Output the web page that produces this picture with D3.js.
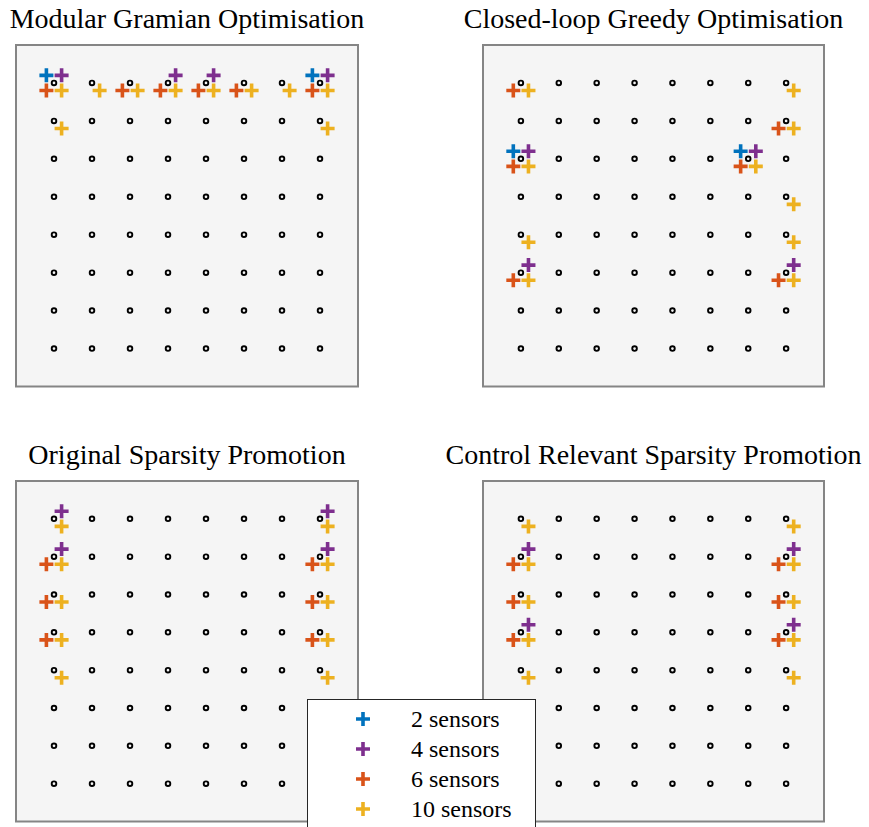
<!DOCTYPE html>
<html>
<head>
<meta charset="utf-8">
<script src="https://cdn.jsdelivr.net/npm/d3@7"></script>
<style>
  body { margin: 0; background: #fff; }
  text { font-family: "Liberation Serif", "DejaVu Serif", serif; fill: #000; }
</style>
</head>
<body>
<script>
// sensor placements, [column, row] on the 8x8 candidate grid (row 1 = top)
const gramian2 = [[1, 1], [8, 1]];
const gramian4 = [[1, 1], [4, 1], [5, 1], [8, 1]];
const gramian6 = [[1, 1], [3, 1], [4, 1], [5, 1], [6, 1], [8, 1]];
const gramian10 = [[1, 1], [2, 1], [3, 1], [4, 1], [5, 1], [6, 1], [7, 1], [8, 1], [1, 2], [8, 2]];

const greedy2 = [[1, 3], [7, 3]];
const greedy4 = [[1, 3], [7, 3], [1, 6], [8, 6]];
const greedy6 = [[1, 1], [8, 2], [1, 3], [7, 3], [1, 6], [8, 6]];
const greedy10 = [[1, 1], [8, 1], [8, 2], [1, 3], [7, 3], [8, 4], [1, 5], [8, 5], [1, 6], [8, 6]];

const sparse2 = [];
const sparse4 = [[1, 1], [8, 1], [1, 2], [8, 2]];
const sparse6 = [[1, 2], [8, 2], [1, 3], [8, 3], [1, 4], [8, 4]];
const sparse10 = [[1, 1], [8, 1], [1, 2], [8, 2], [1, 3], [8, 3], [1, 4], [8, 4], [1, 5], [8, 5]];

const control2 = [];
const control4 = [[1, 2], [8, 2], [1, 4], [8, 4]];
const control6 = [[1, 2], [8, 2], [1, 3], [8, 3], [1, 4], [8, 4]];
const control10 = [[1, 1], [8, 1], [1, 2], [8, 2], [1, 3], [8, 3], [1, 4], [8, 4], [1, 5], [8, 5]];

const gridCols = d3.range(1, 9);
const gridRows = d3.range(1, 9);

const seriesNames = ['2 sensors', '4 sensors', '6 sensors', '10 sensors'];
const seriesColors = ['#0072BD', '#7E2F8E', '#D95319', '#EDB120'];
// small shift so the markers of each series sit round the grid point
const seriesShift = [[-0.2, -0.2], [0.2, -0.2], [-0.2, 0.2], [0.2, 0.2]];

const panelTitles = ['Modular Gramian Optimisation', 'Closed-loop Greedy Optimisation',
  'Original Sparsity Promotion', 'Control Relevant Sparsity Promotion'];
const panelData = [
  [gramian2, gramian4, gramian6, gramian10],
  [greedy2, greedy4, greedy6, greedy10],
  [sparse2, sparse4, sparse6, sparse10],
  [control2, control4, control6, control10]
];

const width = 869, height = 827;
const boxes = [
  { x: 16, y: 45, w: 342, h: 341.5 },
  { x: 483, y: 45, w: 341, h: 341.5 },
  { x: 16, y: 481, w: 342, h: 340.5 },
  { x: 483, y: 481, w: 341, h: 340.5 }
];

const svg = d3.select('body').append('svg')
  .attr('width', width)
  .attr('height', height);

// plus marker as a path, half arm length a
function plus(a) {
  return `M${-a},0H${a}M0,${-a}V${a}`;
}

panelData.forEach((series, i) => {
  let box = boxes[i];
  let x = d3.scaleLinear().domain([0, 9]).range([box.x, box.x + box.w]);
  let y = d3.scaleLinear().domain([0, 9]).range([box.y, box.y + box.h]);

  let g = svg.append('g');

  g.append('rect')
    .attr('x', box.x)
    .attr('y', box.y)
    .attr('width', box.w)
    .attr('height', box.h)
    .attr('fill', '#f5f5f5')
    .attr('stroke', '#858585')
    .attr('stroke-width', 2);

  g.append('text')
    .attr('x', box.x + box.w / 2)
    .attr('y', box.y - 17)
    .attr('text-anchor', 'middle')
    .attr('font-size', 28)
    .text(panelTitles[i]);

  series.forEach((points, k) => {
    g.append('g')
      .selectAll('path')
      .data(points)
      .join('path')
      .attr('transform', d => `translate(${x(d[0] + seriesShift[k][0])},${y(d[1] + seriesShift[k][1])})`)
      .attr('d', plus(7))
      .attr('stroke', seriesColors[k])
      .attr('stroke-width', 3.6)
      .attr('fill', 'none');
  });

  // candidate locations on top
  let grid = gridRows.flatMap(r => gridCols.map(c => [c, r]));
  g.append('g')
    .selectAll('circle')
    .data(grid)
    .join('circle')
    .attr('cx', d => x(d[0]))
    .attr('cy', d => y(d[1]))
    .attr('r', 2.3)
    .attr('fill', 'none')
    .attr('stroke', '#000')
    .attr('stroke-width', 1.9);
});

// legend
let legend = svg.append('g');
legend.append('rect')
  .attr('x', 307.5)
  .attr('y', 699.5)
  .attr('width', 228)
  .attr('height', 140)
  .attr('fill', '#fff')
  .attr('stroke', '#262626')
  .attr('stroke-width', 1);

let entry = legend.selectAll('g.entry')
  .data(seriesNames)
  .join('g')
  .attr('class', 'entry')
  .attr('transform', (d, i) => `translate(0,${719 + i * 30})`);

entry.append('path')
  .attr('transform', 'translate(363,0)')
  .attr('d', plus(7))
  .attr('stroke', (d, i) => seriesColors[i])
  .attr('stroke-width', 3.6);

entry.append('text')
  .attr('x', 411)
  .attr('y', 8)
  .attr('font-size', 24)
  .text(d => d);
</script>
</body>
</html>
